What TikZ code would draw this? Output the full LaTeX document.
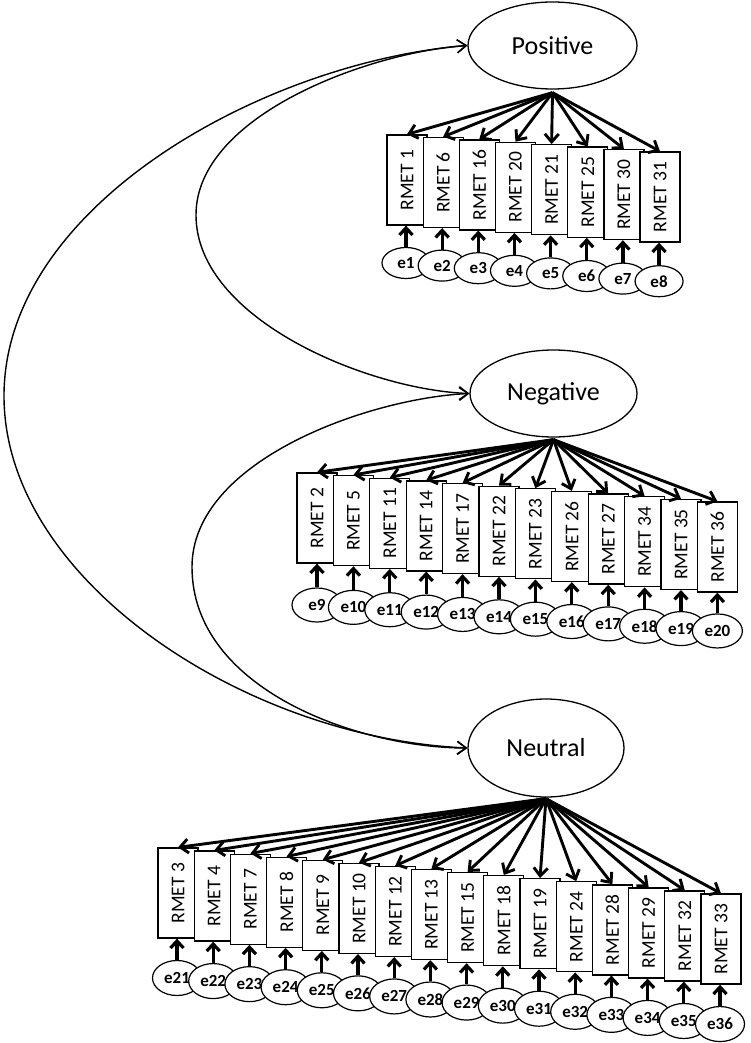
\documentclass[tikz,border=0pt]{standalone}
\usepackage{fontspec}
\setmainfont{Carlito}
\usetikzlibrary{shapes.geometric,arrows.meta}
\begin{document}
\begin{tikzpicture}[x=1pt,y=-1pt,
  latent/.style={draw, ellipse, line width=1.3pt, inner sep=0pt, font=\fontsize{26}{26}\selectfont},
  obs/.style={draw, fill=white, line width=1.3pt, minimum width=40pt, minimum height=90pt, inner sep=0pt, font=\fontsize{19.5}{19.5}\selectfont},
  err/.style={draw, ellipse, fill=white, line width=1.2pt, inner sep=0pt, font=\fontsize{17}{17}\selectfont\bfseries},
  load/.style={line width=2.9pt, -{Straight Barb[length=8pt,width=14pt]}},
  errarrow/.style={line width=3.2pt, -{Straight Barb[length=7pt,width=13pt]}},
  cov/.style={line width=1.4pt, {Straight Barb[length=9pt,width=13pt]}-{Straight Barb[length=9pt,width=13pt]}}
]
\useasboundingbox (0,0) rectangle (750,1043);

% latent factors
\node[latent, minimum width=169pt, minimum height=87pt] (pos) at (552.5,45.5) {Positive};
\node[latent, minimum width=167pt, minimum height=87pt] (neg) at (553.5,393.5) {Negative};
\node[latent, minimum width=156pt, minimum height=98pt] (neu) at (546,748) {Neutral};
\coordinate (posA) at ([yshift=-3pt]pos.south);
\coordinate (negA) at ([yshift=-2pt]neg.south);
\coordinate (neuA) at ([yshift=-1pt]neu.south);

% covariances
\coordinate (L1) at (4,396);
\draw[cov] (pos.west) .. controls (265,62) and (4,205) .. (L1) .. controls (4,580) and (245,738) .. (neu.west);
\coordinate (L2) at (196,215);
\draw[cov] (pos.west) .. controls (370,52) and (196,115) .. (L2) .. controls (196,320) and (370,390) .. (neg.west);
\coordinate (L3) at (192,567);
\draw[cov] (neg.west) .. controls (370,398) and (192,460) .. (L3) .. controls (192,690) and (360,748) .. (neu.west);

% Positive group
\foreach \lab [count=\i from 0] in {1,6,16,20,21,25,30,31} {
  \node[obs] (p\i) at ({407+36.15*\i},{180+2.43*\i}) {\rotatebox{90}{RMET \lab}};
}
\foreach \i in {0,...,7} {
  \pgfmathtruncatemacro\k{\i+1}
  \node[err, minimum width=48pt, minimum height=31pt] (pe\i) at ({406+36.15*\i},{263+2.6*\i}) {e\k};
}
\foreach \i in {0,...,7} {
  \draw[errarrow] (pe\i.north) -- (pe\i.north |- p\i.south);
  \draw[load] (posA) -- (p\i.north);
}

% Negative group
\foreach \lab [count=\i from 0] in {2,5,11,14,17,22,23,26,27,34,35,36} {
  \node[obs] (n\i) at ({317+36.4*\i},{518+2.64*\i}) {\rotatebox{90}{RMET \lab}};
}
\foreach \i in {0,...,11} {
  \pgfmathtruncatemacro\k{\i+9}
  \node[err, minimum width=50pt, minimum height=34pt] (ne\i) at ({317+36.4*\i},{605+2.36*\i}) {e\k};
}
\foreach \i in {0,...,11} {
  \draw[errarrow] (ne\i.north) -- (ne\i.north |- n\i.south);
  \draw[load] (negA) -- (n\i.north);
}

% Neutral group
\foreach \lab [count=\i from 0] in {3,4,7,8,9,10,12,13,15,18,19,24,28,29,32,33} {
  \node[obs] (u\i) at ({178+36.2*\i},{893+3.07*\i}) {\rotatebox{90}{RMET \lab}};
}
\foreach \i in {0,...,15} {
  \pgfmathtruncatemacro\k{\i+21}
  \node[err, minimum width=49pt, minimum height=35pt] (ue\i) at ({177+36.2*\i},{978+3.07*\i}) {e\k};
}
\foreach \i in {0,...,15} {
  \draw[errarrow] (ue\i.north) -- (ue\i.north |- u\i.south);
  \draw[load] (neuA) -- (u\i.north);
}
\end{tikzpicture}
\end{document}
